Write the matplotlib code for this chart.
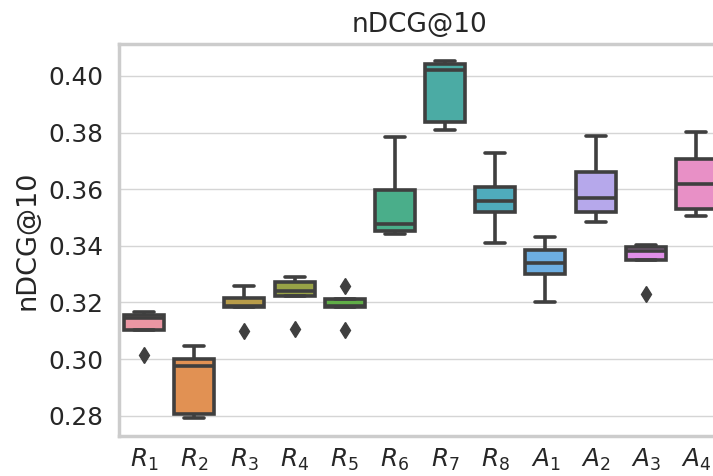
import numpy as np
import pandas as pd
import matplotlib
matplotlib.use('Agg')
import matplotlib.pyplot as plt
import seaborn as sns

# systems on the x axis
systems = ['$R_1$', '$R_2$', '$R_3$', '$R_4$', '$R_5$', '$R_6$', '$R_7$', '$R_8$',
           '$A_1$', '$A_2$', '$A_3$', '$A_4$']

# nDCG@10 of the 5 runs per system
r1 = [0.3014, 0.3102, 0.3144, 0.3155, 0.3167]
r2 = [0.2792, 0.2805, 0.2976, 0.2999, 0.3047]
r3 = [0.3099, 0.3185, 0.3188, 0.3217, 0.3258]
r4 = [0.3105, 0.3222, 0.3241, 0.3271, 0.3291]
r5 = [0.3102, 0.3185, 0.3188, 0.3212, 0.3259]
r6 = [0.3441, 0.3453, 0.3476, 0.3597, 0.3786]
r7 = [0.3810, 0.3839, 0.4021, 0.4042, 0.4054]
r8 = [0.3410, 0.3519, 0.3559, 0.3609, 0.3727]
a1 = [0.3200, 0.3300, 0.3340, 0.3385, 0.3430]
a2 = [0.3484, 0.3518, 0.3568, 0.3660, 0.3787]
a3 = [0.3230, 0.3349, 0.3383, 0.3396, 0.3402]
a4 = [0.3506, 0.3531, 0.3617, 0.3707, 0.3801]

runs = [r1, r2, r3, r4, r5, r6, r7, r8, a1, a2, a3, a4]

rows = []
for name, vals in zip(systems, runs):
    for v in vals:
        rows.append((name, v))
df = pd.DataFrame(rows, columns=['system', 'ndcg'])

sns.set_style('whitegrid')
plt.rcParams['axes.edgecolor'] = '#cccccc'
plt.rcParams['grid.color'] = '#d5d5d5'

fig = plt.figure(figsize=(7.13, 4.76), dpi=100)
# the original picture is cropped on the right, so the axes run past the edge
ax = fig.add_axes([119 / 713, 1 - 435.7 / 476, 602 / 713, (435.7 - 44.3) / 476])

pal = sns.husl_palette(12, l=.7)
lc = '#3f3f3f'
sns.boxplot(data=df, x='system', y='ndcg', hue='system', palette=pal, legend=False,
            saturation=0.75, width=0.8, linewidth=2.6, linecolor=lc, ax=ax,
            flierprops=dict(marker='d', markersize=8, markerfacecolor=lc,
                            markeredgecolor=lc))

ax.set_ylim(0.2729, 0.4112)
ax.set_yticks([0.28, 0.30, 0.32, 0.34, 0.36, 0.38, 0.40])
ax.yaxis.set_major_formatter(matplotlib.ticker.FormatStrFormatter('%.2f'))
ax.tick_params(axis='both', labelsize=17.8, colors='#262626', length=0)
ax.tick_params(axis='y', pad=11)
ax.tick_params(axis='x', pad=8)
ax.set_xlabel('')
ax.set_ylabel('nDCG@10', fontsize=19.5, color='#262626', labelpad=6)
ax.set_title('nDCG@10', fontsize=19, color='#262626', pad=9)
ax.grid(True, axis='y', linewidth=1.0)
ax.grid(False, axis='x')
for s in ax.spines.values():
    s.set_linewidth(2.5)

plt.savefig('out.png', dpi=100)
